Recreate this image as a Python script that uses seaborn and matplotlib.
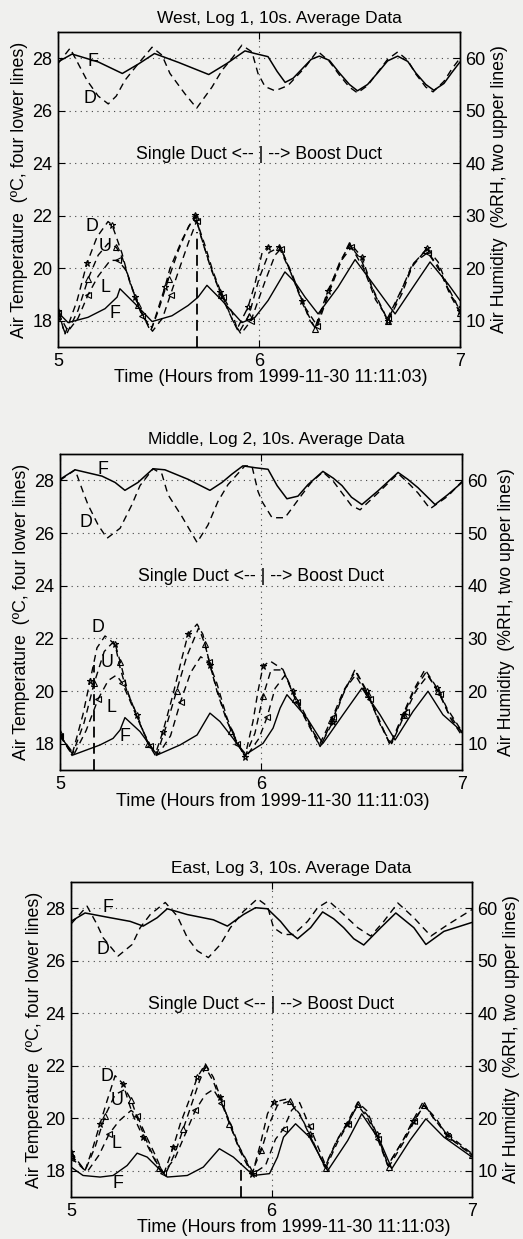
import numpy as np
import matplotlib
matplotlib.use("Agg")
import matplotlib.pyplot as plt
import seaborn as sns

# ---------------- data (hours, value) ----------------
TITLES = ["West, Log 1, 10s. Average Data",
          "Middle, Log 2, 10s. Average Data",
          "East, Log 3, 10s. Average Data"]

# ---- Panel 1 (West) ----
H1_F = [(5.0,59.3),(5.07,60.8),(5.2,59.3),(5.32,57.1),(5.40,58.9),(5.48,60.9),(5.6,59.2),(5.75,56.9),
        (5.84,59.0),(5.93,61.4),(5.98,60.9),(6.045,60.3),(6.09,57.5),(6.13,55.4),(6.17,56.2),(6.215,58.0),
        (6.26,59.8),(6.30,60.4),(6.35,59.6),(6.40,57.2),(6.45,55.0),(6.49,53.8),(6.54,55.0),(6.59,57.2),
        (6.64,59.5),(6.69,60.4),(6.74,59.4),(6.78,57.2),(6.83,55.0),(6.87,53.9),(6.92,55.2),(6.96,57.3),(7.0,59.3)]
H1_D = [(5.0,59.0),(5.06,61.9),(5.10,59.0),(5.144,55.8),(5.2,52.8),(5.25,51.3),(5.29,52.8),(5.333,55.8),
        (5.40,59.0),(5.468,62.1),(5.517,60.6),(5.557,57.1),(5.632,53.2),(5.69,50.5),(5.766,54.5),(5.816,57.7),
        (5.866,60.0),(5.915,62.5),(5.965,61.2),(5.995,57.1),(6.03,54.6),(6.08,53.8),(6.144,54.8),(6.23,58.3),
        (6.29,61.4),(6.35,59.4),(6.40,56.8),(6.45,54.5),(6.49,53.4),(6.54,54.8),(6.59,57.3),(6.64,59.8),
        (6.69,61.2),(6.74,59.6),(6.78,57.0),(6.83,54.5),(6.866,53.6),(6.92,55.6),(6.96,58.0),(7.0,60.0)]
T1_F = [(5.0,18.32),(5.05,17.93),(5.149,18.13),(5.234,18.46),(5.294,18.9),(5.308,19.22),(5.383,18.65),
        (5.468,17.97),(5.567,18.19),(5.647,18.58),(5.697,18.9),(5.741,19.35),(5.816,18.77),(5.915,17.93),
        (5.98,18.13),(6.045,18.77),(6.129,19.86),(6.179,19.47),(6.229,18.9),(6.294,18.26),(6.393,19.28),
        (6.478,20.33),(6.567,19.41),(6.677,18.26),(6.761,19.22),(6.851,20.24),(6.94,19.41),(7.0,18.77)]
T1_D = [(5.0,18.38),(5.035,17.5),(5.095,18.77),(5.144,20.19),(5.194,21.19),(5.249,21.78),(5.269,21.65),
        (5.318,20.58),(5.343,19.86),(5.383,18.9),(5.418,18.19),(5.468,17.74),(5.532,19.28),(5.557,19.99),
        (5.617,21.08),(5.682,22.04),(5.716,21.08),(5.756,20.13),(5.806,19.1),(5.866,18.33),(5.891,17.69),
        (5.945,18.51),(5.98,19.41),(6.015,20.58),(6.045,20.82),(6.104,20.82),(6.164,19.8),(6.214,18.77),
        (6.254,18.0),(6.279,17.74),(6.343,19.15),(6.403,20.18),(6.453,20.95),(6.512,20.43),(6.562,19.28),
        (6.602,18.64),(6.642,18.0),(6.711,19.03),(6.761,20.05),(6.836,20.76),(6.891,20.24),(6.94,19.28),(7.0,18.38)]
T1_U = [(5.0,18.2),(5.04,17.45),(5.10,18.4),(5.15,19.6),(5.2,20.5),(5.25,20.95),(5.29,20.8),(5.32,20.4),
        (5.36,19.4),(5.40,18.6),(5.46,17.6),(5.50,18.4),(5.55,19.6),(5.60,20.7),(5.65,21.6),(5.685,21.95),
        (5.72,21.0),(5.76,20.0),(5.81,19.0),(5.87,18.0),(5.90,17.55),(5.95,18.2),(6.0,19.6),(6.05,20.6),
        (6.10,20.8),(6.16,19.8),(6.22,18.6),(6.28,17.7),(6.34,19.0),(6.40,20.2),(6.45,20.9),(6.51,20.3),
        (6.57,19.1),(6.64,18.0),(6.70,19.0),(6.76,20.1),(6.83,20.7),(6.89,20.1),(6.95,19.0),(7.0,18.3)]
T1_L = [(5.0,18.3),(5.05,17.6),(5.10,18.1),(5.15,19.0),(5.2,19.7),(5.26,20.3),(5.3,20.3),(5.34,19.9),
        (5.38,19.0),(5.42,18.2),(5.47,17.6),(5.52,18.1),(5.56,19.0),(5.60,19.9),(5.65,21.0),(5.69,21.8),
        (5.73,20.9),(5.77,19.9),(5.82,18.9),(5.87,18.0),(5.91,17.5),(5.96,18.0),(6.03,19.5),(6.08,20.5),
        (6.11,20.75),(6.17,19.6),(6.23,18.5),(6.29,17.8),(6.35,19.1),(6.41,20.3),(6.46,20.8),(6.52,20.0),
        (6.58,18.8),(6.64,18.1),(6.71,19.2),(6.77,20.2),(6.84,20.6),(6.90,19.9),(6.96,18.9),(7.0,18.5)]

# ---- Panel 2 (Middle) ----
H2_F = [(5.0,60.2),(5.075,62.0),(5.209,60.8),(5.274,59.6),(5.323,58.1),(5.388,59.6),(5.463,62.2),
        (5.522,62.0),(5.637,60.2),(5.746,58.1),(5.806,59.6),(5.856,61.2),(5.91,62.75),(5.97,62.4),
        (6.035,62.1),(6.08,59.0),(6.129,56.5),(6.184,57.0),(6.234,59.2),(6.308,61.7),(6.36,60.4),
        (6.403,59.0),(6.45,56.8),(6.502,55.4),(6.582,58.0),(6.682,61.5),(6.73,60.2),(6.781,58.6),
        (6.866,55.4),(6.93,57.3),(7.0,59.6)]
H2_D = [(5.0,60.0),(5.075,62.0),(5.114,57.9),(5.139,55.4),(5.19,51.5),(5.234,49.0),(5.299,50.9),
        (5.358,55.4),(5.398,59.0),(5.463,62.2),(5.507,61.2),(5.537,57.3),(5.607,53.1),(5.682,48.2),
        (5.736,51.5),(5.786,56.0),(5.836,59.2),(5.92,62.75),(5.955,62.7),(5.985,57.9),(6.005,56.0),
        (6.055,52.9),(6.119,52.9),(6.154,54.7),(6.204,57.3),(6.25,59.6),(6.308,61.6),(6.36,59.8),
        (6.403,57.6),(6.45,55.2),(6.493,54.4),(6.582,57.6),(6.682,61.3),(6.73,59.6),(6.781,57.6),
        (6.841,54.6),(6.93,57.0),(7.0,59.8)]
T2_F = [(5.0,18.33),(5.065,17.57),(5.199,17.95),(5.264,18.2),(5.299,18.52),(5.323,18.99),(5.398,18.46),
        (5.483,17.57),(5.597,17.95),(5.682,18.33),(5.746,19.16),(5.796,18.84),(5.861,18.2),(5.92,17.57),
        (6.01,18.01),(6.06,18.59),(6.095,19.35),(6.129,19.86),(6.229,18.97),(6.308,18.01),(6.408,19.1),
        (6.502,20.11),(6.592,19.1),(6.667,18.14),(6.756,19.22),(6.831,19.99),(6.905,19.1),(7.0,18.46)]
T2_D = [(5.0,18.3),(5.06,17.58),(5.114,19.1),(5.149,20.37),(5.184,21.64),(5.224,22.09),(5.274,21.77),
        (5.299,20.88),(5.333,19.99),(5.383,19.1),(5.433,18.08),(5.473,17.57),(5.512,18.46),(5.562,19.86),
        (5.607,21.26),(5.637,22.15),(5.682,22.54),(5.711,22.15),(5.746,21.0),(5.781,19.99),(5.831,18.84),
        (5.92,17.5),(5.96,18.84),(5.985,19.99),(6.01,20.94),(6.045,21.14),(6.109,20.82),(6.159,19.99),
        (6.229,18.97),(6.294,17.89),(6.358,18.84),(6.408,19.86),(6.468,20.82),(6.527,19.99),(6.592,18.84),
        (6.642,17.95),(6.706,19.1),(6.756,19.99),(6.816,20.82),(6.876,20.11),(6.925,19.35),(7.0,18.46)]
T2_U = [(5.0,18.4),(5.06,17.55),(5.12,18.8),(5.17,20.3),(5.22,21.5),(5.27,21.9),(5.30,21.1),(5.34,19.9),
        (5.39,18.9),(5.44,18.0),(5.48,17.55),(5.53,18.7),(5.58,20.0),(5.63,21.3),(5.69,22.4),(5.72,21.8),
        (5.76,20.6),(5.80,19.6),(5.85,18.5),(5.92,17.5),(5.97,18.4),(6.01,19.8),(6.05,20.8),(6.11,20.8),
        (6.17,19.7),(6.23,18.8),(6.29,17.95),(6.35,18.9),(6.41,20.0),(6.47,20.75),(6.53,19.9),(6.59,18.8),
        (6.645,17.95),(6.71,19.1),(6.76,20.0),(6.82,20.7),(6.88,20.0),(6.93,19.2),(7.0,18.4)]
T2_L = [(5.0,18.3),(5.07,17.6),(5.13,18.5),(5.19,19.7),(5.24,20.4),(5.28,20.6),(5.31,20.3),(5.35,19.6),
        (5.40,18.7),(5.45,17.9),(5.49,17.6),(5.55,18.3),(5.60,19.6),(5.65,20.7),(5.70,21.3),(5.74,21.1),
        (5.78,20.3),(5.83,19.0),(5.88,18.0),(5.93,17.55),(5.99,18.2),(6.03,19.0),(6.07,20.1),(6.12,20.6),
        (6.18,19.6),(6.24,18.7),(6.30,17.95),(6.36,19.0),(6.42,20.1),(6.47,20.6),(6.54,19.7),(6.60,18.6),
        (6.65,18.0),(6.72,19.2),(6.77,20.0),(6.83,20.6),(6.89,19.9),(6.94,19.0),(7.0,18.3)]

# ---- Panel 3 (East) ----
H3_F = [(5.0,57.5),(5.07,59.1),(5.195,58.2),(5.295,57.5),(5.36,56.6),(5.43,58.2),(5.48,59.9),(5.58,58.8),
        (5.71,57.8),(5.78,56.6),(5.86,58.8),(5.92,60.1),(5.98,59.9),(6.045,57.5),(6.09,55.4),(6.13,54.2),
        (6.195,56.3),(6.255,59.3),(6.31,58.0),(6.36,56.3),(6.41,54.2),(6.46,53.0),(6.545,56.3),(6.62,59.1),
        (6.71,56.3),(6.77,53.1),(6.86,55.6),(7.0,57.3)]
H3_D = [(5.0,57.0),(5.08,60.4),(5.13,56.9),(5.16,54.4),(5.235,50.9),(5.305,53.1),(5.345,56.3),(5.395,58.8),
        (5.47,61.1),(5.53,58.5),(5.58,54.4),(5.63,51.9),(5.685,50.6),(5.745,53.1),(5.795,56.3),(5.86,59.4),
        (5.93,61.8),(5.98,60.4),(6.01,56.3),(6.06,55.0),(6.11,55.0),(6.18,57.5),(6.23,60.1),(6.285,61.4),
        (6.36,58.8),(6.43,56.3),(6.495,54.7),(6.56,57.5),(6.63,61.0),(6.71,58.2),(6.795,54.7),(6.88,56.9),(7.0,59.75)]
T3_F = [(5.0,18.14),(5.06,17.82),(5.145,17.76),(5.21,17.82),(5.28,18.2),(5.33,18.67),(5.38,18.52),
        (5.43,18.14),(5.48,17.76),(5.58,17.82),(5.66,18.14),(5.74,18.84),(5.81,18.52),(5.91,17.82),
        (5.99,17.89),(6.03,18.52),(6.06,19.28),(6.12,19.79),(6.19,19.28),(6.28,18.0),(6.38,19.15),
        (6.45,20.17),(6.54,19.15),(6.6,18.08),(6.69,19.15),(6.77,19.98),(6.86,19.28),(7.0,18.52)]
T3_D = [(5.0,18.71),(5.07,18.0),(5.11,18.9),(5.145,19.79),(5.18,20.67),(5.22,21.62),(5.26,21.31),
        (5.285,20.67),(5.31,20.1),(5.36,19.28),(5.41,18.52),(5.46,17.82),(5.51,18.9),(5.545,19.79),
        (5.595,20.8),(5.63,21.56),(5.67,22.07),(5.71,21.56),(5.745,20.8),(5.78,20.04),(5.83,19.03),
        (5.905,17.89),(5.945,19.03),(5.98,20.17),(6.01,20.61),(6.08,20.74),(6.14,20.17),(6.19,19.41),
        (6.265,18.14),(6.325,19.15),(6.375,19.79),(6.43,20.61),(6.475,20.29),(6.525,19.41),(6.58,18.2),
        (6.655,19.15),(6.705,19.91),(6.755,20.61),(6.805,20.04),(6.875,19.41),(7.0,18.65)]
T3_U = [(5.0,18.6),(5.07,18.0),(5.12,18.9),(5.17,20.1),(5.22,20.9),(5.27,21.1),(5.30,20.7),(5.34,19.8),
        (5.39,18.9),(5.44,18.1),(5.47,17.85),(5.52,18.7),(5.56,19.6),(5.60,20.5),(5.64,21.4),(5.67,21.95),
        (5.71,21.4),(5.75,20.6),(5.79,19.8),(5.84,18.8),(5.90,17.9),(5.95,18.8),(5.99,19.8),(6.03,20.5),
        (6.09,20.65),(6.15,20.0),(6.20,19.2),(6.27,18.1),(6.33,19.1),(6.39,19.9),(6.43,20.55),(6.48,20.1),
        (6.53,19.3),(6.585,18.15),(6.66,19.1),(6.71,19.85),(6.76,20.5),(6.81,20.0),(6.88,19.3),(7.0,18.6)]
T3_L = [(5.0,18.5),(5.08,17.95),(5.14,18.6),(5.19,19.4),(5.24,19.9),(5.30,20.3),(5.33,20.1),(5.37,19.4),
        (5.42,18.6),(5.46,17.9),(5.52,18.5),(5.57,19.4),(5.62,20.3),(5.67,20.9),(5.71,21.1),(5.75,20.6),
        (5.79,19.9),(5.84,18.9),(5.91,17.9),(5.97,18.2),(6.02,19.2),(6.06,19.6),(6.10,20.3),(6.14,20.6),
        (6.19,19.7),(6.27,18.2),(6.33,19.2),(6.38,19.8),(6.43,20.5),(6.48,20.0),(6.53,19.2),(6.58,18.2),
        (6.66,19.2),(6.71,19.9),(6.76,20.5),(6.82,20.0),(6.88,19.3),(7.0,18.6)]

# duct-change marker (hour) and the top of its dashed segment (degC)
DIVIDER_X = [5.69, 5.17, 5.846]
DIVIDER_TOP = [21.4, 21.0, 18.3]

# curve letters: (letter, hour, degC)
LETTERS = [
    [("F", 5.174, 27.86), ("D", 5.159, 26.46), ("D", 5.169, 21.59), ("U", 5.234, 20.82),
     ("L", 5.234, 19.27), ("F", 5.284, 18.27)],
    [("F", 5.214, 28.42), ("D", 5.129, 26.40), ("D", 5.190, 22.41), ("U", 5.232, 21.07),
     ("L", 5.257, 19.38), ("F", 5.323, 18.27)],
    [("F", 5.186, 28.04), ("D", 5.161, 26.43), ("D", 5.178, 21.59), ("U", 5.228, 20.67),
     ("L", 5.228, 19.03), ("F", 5.236, 17.51)],
]

X_TICKS = [5, 6, 7]
T_TICKS = [18, 20, 22, 24, 26, 28]
RH_TICKS = [10, 20, 30, 40, 50, 60]

PANELS = [
    dict(H_F=H1_F, H_D=H1_D, T_F=T1_F, T_D=T1_D, T_U=T1_U, T_L=T1_L),
    dict(H_F=H2_F, H_D=H2_D, T_F=T2_F, T_D=T2_D, T_U=T2_U, T_L=T2_L),
    dict(H_F=H3_F, H_D=H3_D, T_F=T3_F, T_D=T3_D, T_U=T3_U, T_L=T3_L),
]

# ---------------- style / layout ----------------
sns.set_theme(style="ticks")
plt.rcParams["font.family"] = ["Liberation Sans", "DejaVu Sans"]
BG = "#f0f0ee"

W, H = 523, 1239
fig = plt.figure(figsize=(W / 100, H / 100), dpi=100, facecolor=BG)

# axes boxes in pixels: left, top, right, bottom
BOXES = [(58, 32, 460, 347), (60, 454, 462, 770), (71, 882, 472, 1197)]
TITLE_X = [0.55, 0.537, 0.549]
XLAB_X = [0.53, 0.53, 0.556]
LLAB_X = [-0.075, -0.075, -0.07]
RLAB_X = [1.078, 1.09, 1.078]

DASH = (0, (5, 3.5))


def line(ax, pts, dashed=False, marker=None, lw=1.0):
    arr = np.array(pts)
    kw = dict(color="black", lw=lw, estimator=None, sort=False, legend=False)
    kw["linestyle"] = DASH if dashed else "-"
    if marker:
        kw.update(marker=marker, markersize=4.5, fillstyle="none", markeredgewidth=0.8,
                  markeredgecolor="black", markevery=3)
    sns.lineplot(x=arr[:, 0], y=arr[:, 1], ax=ax, **kw)


for i, (box, p) in enumerate(zip(BOXES, PANELS)):
    l, t, r, b = box
    ax = fig.add_axes([l / W, 1 - b / H, (r - l) / W, (b - t) / H])
    ax.set_facecolor(BG)
    ax2 = ax.twinx()

    # temperature (four lower lines)
    line(ax, p["T_F"])
    line(ax, p["T_L"], dashed=True, marker="<")
    line(ax, p["T_U"], dashed=True, marker="^")
    line(ax, p["T_D"], dashed=True, marker="*")
    ax.vlines(DIVIDER_X[i], 17, DIVIDER_TOP[i], colors="black", linestyles=(0, (6, 3)), lw=1.3)

    # humidity (two upper lines)
    line(ax2, p["H_F"], lw=1.1)
    line(ax2, p["H_D"], dashed=True)

    ax.set_xlim(5, 7)
    ax.set_ylim(17, 29)
    ax2.set_ylim(5, 65)
    ax.set_xticks(X_TICKS)
    ax.set_yticks(T_TICKS)
    ax2.set_yticks(RH_TICKS)

    ax.grid(True, linestyle=(0, (1, 4)), color="#444444", lw=0.8)
    for a in (ax, ax2):
        for s in a.spines.values():
            s.set_visible(True)
            s.set_color("black")
            s.set_linewidth(1.0)
    ax.tick_params(direction="in", length=5, width=0.8, labelsize=13, top=True, pad=4,
                   colors="black")
    ax2.tick_params(direction="in", length=5, width=0.8, labelsize=13, pad=4, colors="black")

    ax.set_xlabel("")
    ax.set_ylabel("Air Temperature  (\u00baC, four lower lines)", fontsize=12.8, color="black")
    ax.yaxis.set_label_coords(LLAB_X[i], 0.5)
    ax2.set_ylabel("Air Humidity  (%RH, two upper lines)", fontsize=12.8, color="black",
                   rotation=90)
    ax2.yaxis.set_label_coords(RLAB_X[i], 0.5)

    ax.text(TITLE_X[i], 1.0 + 14 / 315, TITLES[i], transform=ax.transAxes, ha="center",
            va="center", fontsize=12.5, color="black")
    ax.text(XLAB_X[i], -31 / 315, "Time (Hours from 1999-11-30 11:11:03)",
            transform=ax.transAxes, ha="center", va="center", fontsize=13, color="black")
    ax.text(6.0, 24.35, "Single Duct <-- | --> Boost Duct", ha="center", va="center",
            fontsize=12.8, color="black", zorder=5)
    for letter, hx, ty in LETTERS[i]:
        ax.text(hx, ty, letter, ha="center", va="center", fontsize=12.8, color="black", zorder=5)

fig.savefig("out.png", dpi=100, facecolor=BG)
